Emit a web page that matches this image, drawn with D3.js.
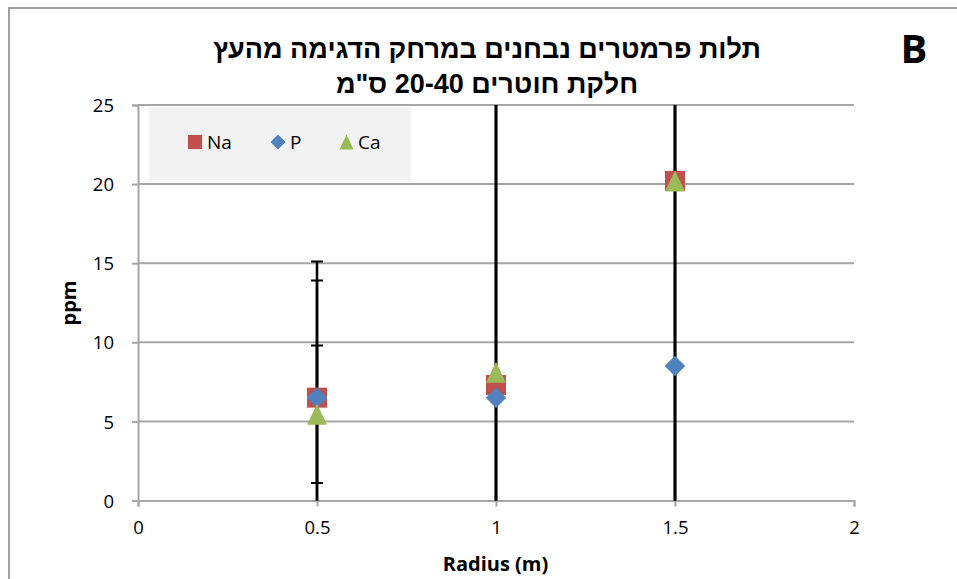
<!DOCTYPE html>
<html>
<head>
<meta charset="utf-8">
<script src="https://cdn.jsdelivr.net/npm/d3@7"></script>
<style>
  html, body { margin: 0; padding: 0; background: #ffffff; }
  svg { display: block; }
</style>
</head>
<body>
<svg id="chart" width="957" height="579"></svg>
<script>
// Sampling distance from the tree (m)
const radius = [0.5, 1, 1.5];

// Measured concentrations (ppm) per element
const naValues = [6.5, 7.3, 20.2];
const pValues = [6.5, 6.5, 8.5];
const caValues = [5.45, 8.1, 20.2];

// Standard deviations used for the error bars
const naErrors = [8.6, 26, 27];
const pErrors = [7.4, 22, 19];
const caErrors = [4.35, 28, 25];

const xTicks = [0, 0.5, 1, 1.5, 2];
const yTicks = [0, 5, 10, 15, 20, 25];
const titleLines = ["תלות פרמטרים נבחנים במרחק הדגימה מהעץ", "חלקת חוטרים 20-40 ס\"מ"];

const series = [
  { name: "Na", values: naValues, errors: naErrors, color: "#c0504d", shape: "square" },
  { name: "P", values: pValues, errors: pErrors, color: "#4f81bd", shape: "diamond" },
  { name: "Ca", values: caValues, errors: caErrors, color: "#9bbb59", shape: "triangle" }
];

const svg = d3.select("#chart");
const font = "'Open Sans', 'DejaVu Sans', sans-serif";
const gridColor = "#a6a6a6";

const x = d3.scaleLinear().domain([0, 2]).range([138, 854]);
const y = d3.scaleLinear().domain([0, 25]).range([500.5, 105]);

// Marker shapes centred on their bounding box
const shapes = {
  square: { draw(ctx, size) { const h = Math.sqrt(size) / 2; ctx.rect(-h, -h, 2 * h, 2 * h); } },
  diamond: { draw(ctx, size) { const h = Math.sqrt(size) / 2; ctx.moveTo(0, -h); ctx.lineTo(h, 0); ctx.lineTo(0, h); ctx.lineTo(-h, 0); ctx.closePath(); } },
  triangle: { draw(ctx, size) { const h = Math.sqrt(size) / 2; ctx.moveTo(0, -h * 1.05); ctx.lineTo(h, h * 1.05); ctx.lineTo(-h, h * 1.05); ctx.closePath(); } }
};

// Outer chart frame
svg.append("rect")
  .attr("x", 9).attr("y", 8).attr("width", 1000).attr("height", 700)
  .attr("fill", "#ffffff").attr("stroke", "#a0a0a0").attr("stroke-width", 2);

// Horizontal gridlines
svg.append("g").selectAll("line")
  .data(yTicks.filter(d => d > 0))
  .join("line")
  .attr("x1", x(0)).attr("x2", x(2))
  .attr("y1", d => y(d)).attr("y2", d => y(d))
  .attr("stroke", gridColor).attr("stroke-width", 2);

// Y axis
const yAxis = svg.append("g")
  .attr("transform", `translate(${x(0)},0)`)
  .call(d3.axisLeft(y).tickValues(yTicks).tickSize(6).tickPadding(18).tickFormat(d3.format("d")));
yAxis.select(".domain").attr("stroke", gridColor).attr("stroke-width", 2);
yAxis.selectAll(".tick line").attr("stroke", gridColor).attr("stroke-width", 2);
yAxis.selectAll(".tick text")
  .attr("font-family", font).attr("font-size", 18.5).attr("fill", "#000").attr("dy", "0.36em");

// X axis
const xAxis = svg.append("g")
  .attr("transform", `translate(0,${y(0)})`)
  .call(d3.axisBottom(x).tickValues(xTicks).tickSize(6).tickPadding(14).tickFormat(d => String(d)));
xAxis.select(".domain").attr("stroke", gridColor).attr("stroke-width", 2);
xAxis.selectAll(".tick line").attr("stroke", gridColor).attr("stroke-width", 2);
xAxis.selectAll(".tick text")
  .attr("font-family", font).attr("font-size", 18.5).attr("fill", "#000");

// Clip region for the plot area
svg.append("clipPath").attr("id", "plot-clip")
  .append("rect")
  .attr("x", x(0) - 20).attr("y", y(25))
  .attr("width", x(2) - x(0) + 40).attr("height", y(0) - y(25));

// Error bars
const errLayer = svg.append("g").attr("clip-path", "url(#plot-clip)");
const capHalf = 6;
series.forEach(s => {
  const rows = radius.map((r, i) => ({ r, v: s.values[i], e: s.errors[i] }));
  const g = errLayer.append("g");
  g.selectAll("line.stem").data(rows).join("line").attr("class", "stem")
    .attr("x1", d => x(d.r)).attr("x2", d => x(d.r))
    .attr("y1", d => y(d.v + d.e)).attr("y2", d => y(d.v - d.e))
    .attr("stroke", "#000").attr("stroke-width", 2.5);
  ["hi", "lo"].forEach(k => {
    g.selectAll("line.cap-" + k).data(rows).join("line").attr("class", "cap-" + k)
      .attr("x1", d => x(d.r) - capHalf).attr("x2", d => x(d.r) + capHalf)
      .attr("y1", d => y(k === "hi" ? d.v + d.e : d.v - d.e))
      .attr("y2", d => y(k === "hi" ? d.v + d.e : d.v - d.e))
      .attr("stroke", "#000").attr("stroke-width", 2);
  });
});

// Markers
series.forEach(s => {
  const sym = d3.symbol().type(shapes[s.shape]).size(s.shape === "diamond" ? 420 : 400);
  svg.append("g").selectAll("path")
    .data(radius.map((r, i) => ({ r, v: s.values[i] })))
    .join("path")
    .attr("transform", d => `translate(${x(d.r)},${y(d.v)})`)
    .attr("d", sym)
    .attr("fill", s.color);
});

// Legend
const legend = svg.append("g");
legend.append("rect")
  .attr("x", 149).attr("y", 107).attr("width", 262).attr("height", 74)
  .attr("fill", "#f2f2f2");
const legendPos = [
  { mx: 195, tx: 207 },
  { mx: 278, tx: 290 },
  { mx: 346.5, tx: 358 }
];
series.forEach((s, i) => {
  const sym = d3.symbol().type(shapes[s.shape]).size(s.shape === "diamond" ? 230 : 200);
  legend.append("path")
    .attr("transform", `translate(${legendPos[i].mx},142)`)
    .attr("d", sym).attr("fill", s.color);
  legend.append("text")
    .attr("x", legendPos[i].tx).attr("y", 149)
    .attr("font-family", font).attr("font-size", 19).attr("fill", "#000")
    .text(s.name);
});

// Title
svg.append("g").selectAll("text")
  .data(titleLines)
  .join("text")
  .attr("x", 487).attr("y", (d, i) => 58 + i * 35)
  .attr("text-anchor", "middle").attr("direction", "rtl")
  .attr("font-family", "'Liberation Sans', 'DejaVu Sans', sans-serif")
  .attr("font-weight", "bold").attr("font-size", 27).attr("fill", "#000")
  .text(d => d);

// Panel letter
svg.append("text")
  .attr("x", 914).attr("y", 63).attr("text-anchor", "middle")
  .attr("font-family", font).attr("font-weight", "bold").attr("font-size", 40).attr("fill", "#000")
  .text("B");

// Axis titles
svg.append("text")
  .attr("x", 495.5).attr("y", 571).attr("text-anchor", "middle")
  .attr("font-family", font).attr("font-weight", "bold").attr("font-size", 20).attr("fill", "#000")
  .text("Radius (m)");
svg.append("text")
  .attr("transform", "translate(76,303) rotate(-90)")
  .attr("text-anchor", "middle")
  .attr("font-family", font).attr("font-weight", "bold").attr("font-size", 20).attr("fill", "#000")
  .text("ppm");
</script>
</body>
</html>
